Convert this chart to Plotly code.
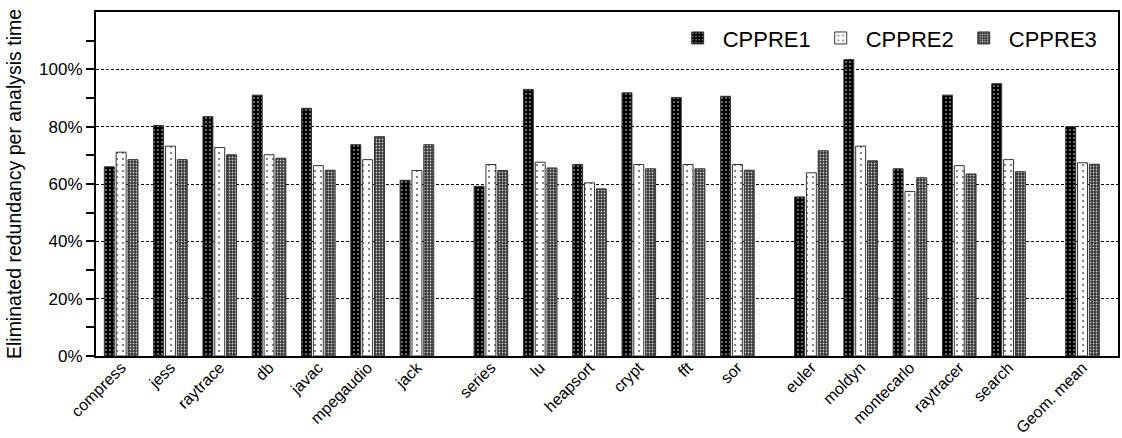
import plotly.graph_objects as go

# Benchmarks, grouped by suite (gaps of half a slot between groups)
benchmarks = ["compress", "jess", "raytrace", "db", "javac", "mpegaudio", "jack",
              "series", "lu", "heapsort", "crypt", "fft", "sor",
              "euler", "moldyn", "montecarlo", "raytracer", "search",
              "Geom. mean"]
positions = [0, 1, 2, 3, 4, 5, 6,
             7.5, 8.5, 9.5, 10.5, 11.5, 12.5,
             14, 15, 16, 17, 18,
             19.5]

cppre1 = [66.0, 80.4, 83.5, 91.0, 86.4, 73.7, 61.3,
          59.2, 93.0, 66.8, 91.8, 90.2, 90.6,
          55.5, 103.4, 65.3, 91.0, 95.0,
          80.0]
cppre2 = [71.1, 73.2, 72.7, 70.2, 66.4, 68.5, 64.7,
          66.8, 67.6, 60.4, 66.8, 66.8, 66.8,
          63.9, 73.2, 57.4, 66.4, 68.5,
          67.4]
cppre3 = [68.5, 68.5, 70.2, 69.0, 64.8, 76.5, 73.7,
          64.7, 65.6, 58.3, 65.3, 65.3, 64.8,
          71.6, 68.1, 62.2, 63.5, 64.3,
          66.9]

y_ticks = [0, 20, 40, 60, 80, 100]
y_tick_labels = ["0%", "20%", "40%", "60%", "80%", "100%"]

series_defs = [
    ("CPPRE1", cppre1, dict(shape=".", bgcolor="black", fgcolor="white", size=4, solidity=0.12, fillmode="replace")),
    ("CPPRE2", cppre2, dict(shape=".", bgcolor="white", fgcolor="#666666", size=6, solidity=0.1, fillmode="replace")),
    ("CPPRE3", cppre3, dict(shape=".", bgcolor="#333333", fgcolor="#cccccc", size=3, solidity=0.3, fillmode="replace")),
]

fig = go.Figure()
for name, vals, pat in series_defs:
    fig.add_trace(go.Bar(
        x=positions, y=vals, name=name,
        marker=dict(color=pat["bgcolor"], pattern=pat,
                    line=dict(color="#333333", width=1)),
    ))

font_family = "Liberation Sans, Arial, sans-serif"

fig.update_layout(
    width=1122, height=438,
    margin=dict(l=96, r=4, t=12, b=82, autoexpand=False),
    paper_bgcolor="white", plot_bgcolor="white",
    barmode="group", bargap=0.28, bargroupgap=0.16,
    font=dict(family=font_family, color="black", size=17),
    showlegend=True,
    legend=dict(orientation="h", x=0.985, xanchor="right", y=0.985, yanchor="top",
                font=dict(size=22), bgcolor="rgba(0,0,0,0)", itemwidth=40,
                tracegroupgap=0),
)

fig.update_xaxes(
    range=[-0.51, 20.22],
    tickmode="array", tickvals=positions, ticktext=benchmarks,
    tickangle=-45, ticks="", tickfont=dict(size=16), automargin=False,
    ticklabelstandoff=-6,
    showline=True, linecolor="black", linewidth=2, mirror=True,
    showgrid=False, zeroline=False,
)

fig.update_yaxes(
    range=[0, 120], automargin=False,
    tickmode="array", tickvals=y_ticks, ticktext=y_tick_labels,
    ticks="outside", ticklen=8, tickwidth=1.5, tickcolor="black",
    tickfont=dict(size=17),
    minor=dict(tickmode="array", tickvals=[10, 30, 50, 70, 90, 110],
               ticks="outside", ticklen=8, tickwidth=1.5, tickcolor="black",
               showgrid=False),
    showline=True, linecolor="black", linewidth=2, mirror=True,
    showgrid=True, gridcolor="black", gridwidth=1, griddash="3px,2px",
    zeroline=False,
    title=dict(text="Eliminated redundancy per analysis time", font=dict(size=19.5), standoff=12),
)

fig.write_html("out.html")
